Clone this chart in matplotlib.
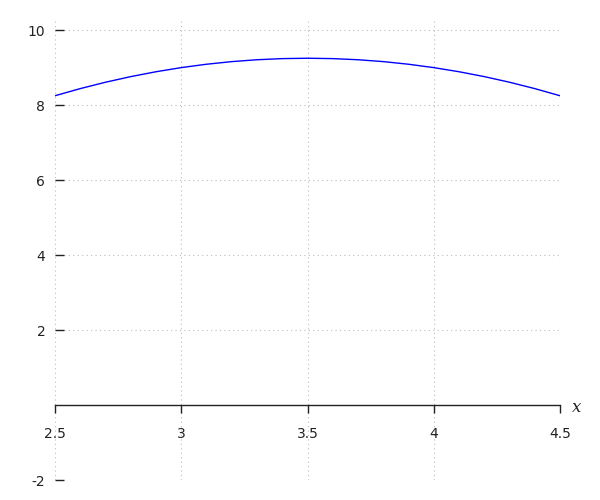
import matplotlib
matplotlib.use("Agg")
import matplotlib.pyplot as plt

# values
x_vals = [2.5, 2.6, 2.7, 2.8, 2.9, 3.0, 3.1, 3.2, 3.3, 3.4, 3.5,
          3.6, 3.7, 3.8, 3.9, 4.0, 4.1, 4.2, 4.3, 4.4, 4.5]
y_vals = [8.25, 8.44, 8.61, 8.76, 8.89, 9.0, 9.09, 9.16, 9.21, 9.24, 9.25,
          9.24, 9.21, 9.16, 9.09, 9.0, 8.89, 8.76, 8.61, 8.44, 8.25]

x_ticks = [2.5, 3, 3.5, 4, 4.5]
x_labels = ["2.5", "3", "3.5", "4", "4.5"]
y_ticks = [-2, 2, 4, 6, 8, 10]
y_labels = ["-2", "2", "4", "6", "8", "10"]

fig = plt.figure(figsize=(6, 5), dpi=100)
ax = fig.add_axes([55 / 600, 1 - 480 / 500, 505 / 600, 460 / 500])

ax.plot(x_vals, y_vals, color="blue", lw=1)

ax.set_xlim(2.5, 4.5)
ax.set_ylim(-2, 10.27)

ax.set_xticks(x_ticks)
ax.set_xticklabels(x_labels)
ax.set_yticks(y_ticks)
ax.set_yticklabels(y_labels)

for s in ["top", "right", "left"]:
    ax.spines[s].set_visible(False)
ax.spines["bottom"].set_position(("data", 0))
ax.spines["bottom"].set_color("#222222")
ax.spines["bottom"].set_linewidth(1)

ax.tick_params(axis="x", direction="out", length=5.5, width=1, pad=10,
               labelsize=10, colors="#222222")
ax.tick_params(axis="y", direction="in", length=6.5, width=1, pad=7,
               labelsize=10, colors="#222222")

ax.grid(True, color="#bbbbbb", linestyle=(0, (1, 3)), linewidth=0.8)
ax.set_axisbelow(True)

ax.annotate("x", xy=(4.5, 0), xytext=(8.5, -1.5), textcoords="offset points",
            fontsize=12, fontstyle="italic", family="DejaVu Serif",
            color="#222222", va="center", annotation_clip=False)

fig.savefig("out.png", dpi=100)
